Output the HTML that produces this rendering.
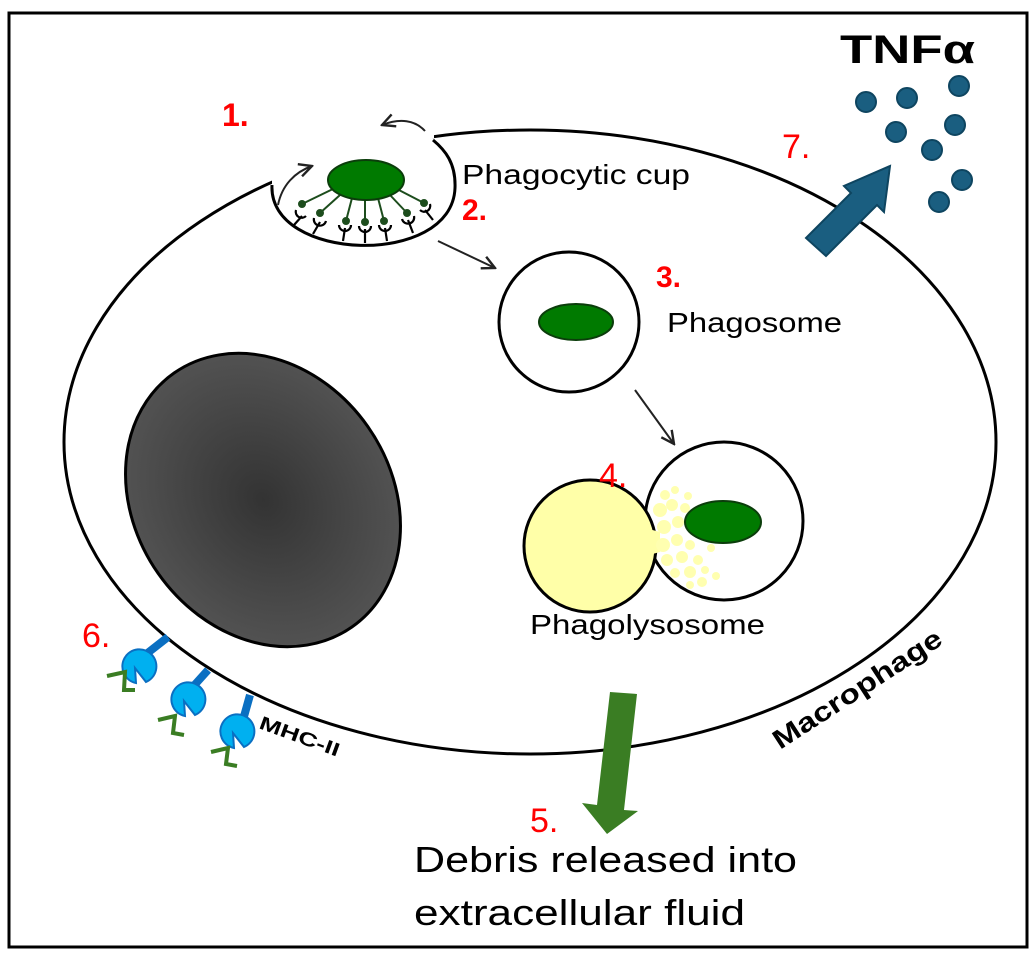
<!DOCTYPE html>
<html><head><meta charset="utf-8"><style>
html,body{margin:0;padding:0;background:#fff;}
svg{display:block;}
text{font-family:"Liberation Sans",sans-serif;}
</style></head><body>
<svg width="1036" height="966" viewBox="0 0 1036 966" xmlns="http://www.w3.org/2000/svg">
<defs>
<radialGradient id="ng" cx="0.5" cy="0.5" r="0.55">
<stop offset="0" stop-color="#333"/><stop offset="1" stop-color="#555"/>
</radialGradient>
<marker id="ah" viewBox="0 0 10 10" refX="9" refY="5" markerWidth="8" markerHeight="8" orient="auto"><path d="M1,1 L9,5 L1,9" fill="none" stroke="#222" stroke-width="1.5"/></marker>
</defs>
<rect x="9" y="13" width="1018" height="934" fill="#fff" stroke="#000" stroke-width="3"/>
<!-- cell -->
<ellipse cx="530" cy="442" rx="466" ry="312" fill="#fff" stroke="#000" stroke-width="3"/>
<path d="M272,184 L434,138 L434,100 L272,100 Z" fill="#fff"/>
<path d="M272,185 C268,262 452,268 455,188 C456,163 445,150 433,140" fill="#fff" stroke="#000" stroke-width="3"/>
<path d="M278,205 C282,185 295,172 312,166" fill="none" stroke="#222" stroke-width="2" marker-end="url(#ah)"/>
<path d="M425,131 C415,120 400,118 382,125" fill="none" stroke="#222" stroke-width="2" marker-end="url(#ah)"/>
<!-- receptors: stalks from membrane -->
<g stroke="#000" stroke-width="2.2" fill="none">
<path d="M294,225 L302,216"/><path d="M313,234 L320,222"/><path d="M343,241 L345,228"/><path d="M365,243 L365,229"/><path d="M387,241 L385,228"/><path d="M413,233 L408,220"/><path d="M433,220 L425,210"/>
<path d="M296,210 a6,6 0 0 0 10,6"/><path d="M314,218 a6,6 0 0 0 12,3"/><path d="M339,225 a6,6 0 0 0 12,0"/><path d="M359,226 a6,6 0 0 0 12,0"/><path d="M379,225 a6,6 0 0 0 12,0"/><path d="M402,219 a6,6 0 0 0 12,-3"/><path d="M420,210 a6,6 0 0 0 10,-6"/>
</g>
<g stroke="#1d4d1d" stroke-width="2" fill="#1d4d1d">
<line x1="335" y1="188" x2="302" y2="204"/><line x1="340" y1="195" x2="320" y2="213"/><line x1="352" y1="198" x2="346" y2="221"/><line x1="365" y1="200" x2="365" y2="222"/><line x1="378" y1="198" x2="384" y2="221"/><line x1="390" y1="195" x2="407" y2="213"/><line x1="395" y1="188" x2="424" y2="203"/>
<circle cx="302" cy="204" r="3"/><circle cx="320" cy="213" r="3"/><circle cx="346" cy="221" r="3"/><circle cx="365" cy="222" r="3"/><circle cx="384" cy="221" r="3"/><circle cx="407" cy="213" r="3"/><circle cx="424" cy="203" r="3"/>
</g>
<ellipse cx="366" cy="180" rx="38" ry="20" fill="#007a00" stroke="#0b3d0b" stroke-width="2"/>
<line x1="438" y1="241" x2="495" y2="268" stroke="#222" stroke-width="2" marker-end="url(#ah)"/>
<line x1="635" y1="390" x2="674" y2="444" stroke="#222" stroke-width="2" marker-end="url(#ah)"/>
<circle cx="569" cy="322" r="70" fill="#fff" stroke="#000" stroke-width="3"/>
<ellipse cx="576" cy="322" rx="37" ry="18" fill="#007a00" stroke="#0b3d0b" stroke-width="2"/>
<circle cx="724" cy="521" r="79" fill="#fff" stroke="#000" stroke-width="3"/>
<circle cx="590" cy="546" r="66" fill="#ffffa8" stroke="#000" stroke-width="3"/>
<path d="M645,528 L660,532 L660,552 L645,556 Z" fill="#ffffa8"/>
<g fill="#ffffb0">
<circle cx="665" cy="495" r="5"/><circle cx="675" cy="490" r="4"/><circle cx="688" cy="496" r="4"/><circle cx="660" cy="510" r="7"/><circle cx="672" cy="505" r="6"/><circle cx="685" cy="508" r="5"/><circle cx="664" cy="527" r="7"/><circle cx="678" cy="522" r="6"/><circle cx="663" cy="545" r="7"/><circle cx="677" cy="540" r="6"/><circle cx="690" cy="545" r="5"/><circle cx="667" cy="560" r="6"/><circle cx="682" cy="557" r="6"/><circle cx="698" cy="560" r="5"/><circle cx="675" cy="573" r="5"/><circle cx="690" cy="572" r="6"/><circle cx="705" cy="570" r="4"/><circle cx="690" cy="585" r="4"/><circle cx="702" cy="582" r="5"/><circle cx="716" cy="576" r="4"/><circle cx="711" cy="548" r="4"/>
</g>
<ellipse cx="723" cy="522" rx="38" ry="21" fill="#007a00" stroke="#0b3d0b" stroke-width="2"/>
<!-- nucleus -->
<ellipse cx="263" cy="500" rx="128" ry="155" transform="rotate(-35 263 500)" fill="url(#ng)" stroke="#000" stroke-width="3"/>
<!-- MHC -->
<g>
<line x1="168" y1="637" x2="145" y2="655" stroke="#0a6fc2" stroke-width="8"/>
<line x1="208" y1="670" x2="190" y2="690" stroke="#0a6fc2" stroke-width="8"/>
<line x1="250" y1="695" x2="243" y2="720" stroke="#0a6fc2" stroke-width="8"/>
<path d="M136,683 A17,17 0 1 1 146,682 L135,668 Z" fill="#00b0f0" stroke="#0a6fc2" stroke-width="2"/>
<path d="M185,716 A17,17 0 1 1 195,715 L184,701 Z" fill="#00b0f0" stroke="#0a6fc2" stroke-width="2"/>
<path d="M234,748 A17,17 0 1 1 244,747 L233,733 Z" fill="#00b0f0" stroke="#0a6fc2" stroke-width="2"/>
<path d="M107,676 L125,672 L124,690 L135,690" fill="none" stroke="#3a7d23" stroke-width="4"/>
<path d="M158,720 L175,716 L173,733 L184,735" fill="none" stroke="#3a7d23" stroke-width="4"/>
<path d="M211,752 L228,748 L226,764 L237,766" fill="none" stroke="#3a7d23" stroke-width="4"/>
</g>
<path d="M806,238 L851,193 L844,186 L890,166 L884,212 L877,205 L826,256 Z" fill="#1a5e80" stroke="#0e4560" stroke-width="2"/>
<g fill="#1a5e80" stroke="#0e4560" stroke-width="2">
<circle cx="866" cy="102" r="10"/><circle cx="907" cy="98" r="10"/><circle cx="959" cy="86" r="10"/><circle cx="896" cy="132" r="10"/><circle cx="955" cy="125" r="10"/><circle cx="932" cy="150" r="10"/><circle cx="962" cy="180" r="10"/><circle cx="939" cy="202" r="10"/>
</g>
<path d="M610,692 L637,694 L624,810 L638,811 L607,834 L582,803 L597,805 Z" fill="#3a7d23"/>
<!-- texts -->
<text x="222" y="126" font-size="32" font-weight="bold" fill="#f00">1.</text>
<text x="462" y="220" font-size="30" font-weight="bold" fill="#f00">2.</text>
<text x="656" y="287" font-size="30" font-weight="bold" fill="#f00">3.</text>
<text x="599" y="487" font-size="34" fill="#f00">4.</text>
<text x="530" y="832" font-size="34" fill="#f00">5.</text>
<text x="82" y="647" font-size="34" fill="#f00">6.</text>
<text x="782" y="158" font-size="34" fill="#f00">7.</text>
<text x="462" y="184" font-size="28" fill="#000" textLength="228" lengthAdjust="spacingAndGlyphs">Phagocytic cup</text>
<text x="667" y="332" font-size="28" fill="#000" textLength="175" lengthAdjust="spacingAndGlyphs">Phagosome</text>
<text x="530" y="634" font-size="28" fill="#000" textLength="235" lengthAdjust="spacingAndGlyphs">Phagolysosome</text>
<text x="840" y="63" font-size="40" font-weight="bold" fill="#000" textLength="135" lengthAdjust="spacingAndGlyphs">TNFα</text>
<text x="258" y="728" font-size="19" font-weight="bold" fill="#000" transform="rotate(20 258 728)" textLength="84" lengthAdjust="spacingAndGlyphs">MHC-II</text>
<text x="780" y="750" font-size="27" font-weight="bold" fill="#000" transform="rotate(-33 780 750)" textLength="196" lengthAdjust="spacingAndGlyphs">Macrophage</text>
<text x="414" y="872" font-size="36" fill="#000" textLength="383" lengthAdjust="spacingAndGlyphs">Debris released into</text>
<text x="414" y="925" font-size="36" fill="#000" textLength="331" lengthAdjust="spacingAndGlyphs">extracellular fluid</text>
</svg>
</body></html>
